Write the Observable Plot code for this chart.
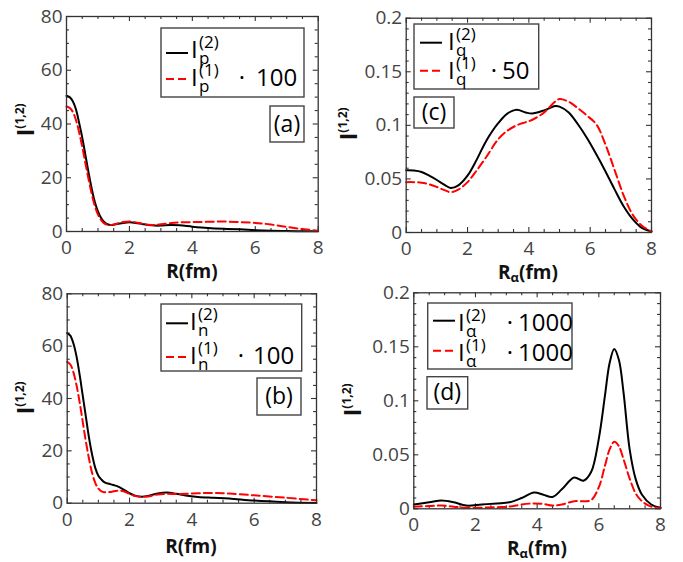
<!DOCTYPE html>
<html><head><meta charset="utf-8">
<script src="https://cdn.jsdelivr.net/npm/d3@7"></script>
<script src="https://cdn.jsdelivr.net/npm/@observablehq/plot@0.6"></script>
<style>
body{margin:0;background:#fff;}
#root{position:relative;width:683px;height:562px;background:#fff;font-family:"Open Sans",sans-serif;}
#root > svg{position:absolute;}
</style></head><body><div id="root"></div>
<script>
// ---------- data ----------
const xTicks = [0, 2, 4, 6, 8];
const xMinorTicks = [0.5, 1, 1.5, 2.5, 3, 3.5, 4.5, 5, 5.5, 6.5, 7, 7.5];
const abYTicks = [0, 20, 40, 60, 80];
const abYMinor = [5, 10, 15, 25, 30, 35, 45, 50, 55, 65, 70, 75];
const cdYTicks = [0, 0.05, 0.1, 0.15, 0.2];
const cdYMinor = [0.01, 0.02, 0.03, 0.04, 0.06, 0.07, 0.08, 0.09, 0.11, 0.12, 0.13, 0.14, 0.16, 0.17, 0.18, 0.19];

// (a) proton
const aR     = [0,0.1,0.2,0.3,0.4,0.5,0.6,0.7,0.8,0.9,1.0,1.1,1.2,1.3,1.4,1.5,1.6,1.8,2.0,2.2,2.4,2.6,2.8,3.0,3.3,3.6,4.0,4.5,5.0,5.5,6.0,6.5,7.0,7.5,8.0];
const aI2    = [50.5,50,48.5,45.5,40.5,35,28.5,22,16,11,7.5,5,3.5,2.7,2.4,2.5,2.8,3.2,3.4,3.2,2.8,2.4,2.2,2.2,2.4,2.3,1.8,1.3,1.0,0.8,0.5,0.3,0.2,0.1,0.05];
const aI1x100= [46.5,46,44.5,41.5,37,31.5,25.5,19.5,14,9.5,6.3,4.2,3,2.5,2.4,2.6,2.9,3.5,3.7,3.4,2.9,2.5,2.4,2.7,3.1,3.4,3.5,3.6,3.7,3.5,3.2,2.6,1.7,0.9,0.3];

// (b) neutron
const bR     = [0,0.1,0.2,0.3,0.4,0.5,0.6,0.7,0.8,0.9,1.0,1.1,1.2,1.4,1.6,1.8,2.0,2.2,2.4,2.6,2.9,3.2,3.5,3.8,4.2,4.7,5.2,6.0,7.0,8.0];
const bI2    = [65,64,61,56,49,41,33,25,18.5,13.5,10.5,9,8,7.2,6.5,5.3,3.8,2.8,2.5,2.8,3.7,4.1,3.6,2.9,2.4,2.1,1.8,1.0,0.4,0.1];
const bI1x100= [54,53,50,45,38.5,31,23.5,17,11.5,7.8,5.6,4.5,4.2,4.3,4.8,4.6,3.6,2.7,2.4,2.6,3.3,3.6,3.5,3.6,3.8,3.9,3.7,3.0,2.1,1.1];

// (c) Iq
const cR     = [0,0.25,0.5,0.75,1.0,1.25,1.45,1.7,2.0,2.3,2.6,3.0,3.3,3.6,3.9,4.1,4.5,4.85,5.0,5.3,5.6,5.9,6.2,6.5,6.8,7.1,7.4,7.7,8.0];
const cI2    = [0.058,0.0578,0.0565,0.053,0.049,0.0445,0.0415,0.044,0.053,0.068,0.085,0.102,0.111,0.1145,0.112,0.111,0.114,0.118,0.1175,0.112,0.101,0.088,0.073,0.057,0.040,0.024,0.012,0.004,0.001];
const cI1x50 = [0.047,0.047,0.0465,0.045,0.0425,0.0395,0.0376,0.040,0.047,0.058,0.070,0.087,0.095,0.100,0.103,0.105,0.112,0.122,0.1245,0.122,0.116,0.109,0.101,0.082,0.058,0.034,0.016,0.006,0.001];

// (d) alpha
const dR      = [0,0.5,0.9,1.3,1.7,2.2,2.7,3.1,3.5,3.9,4.2,4.5,4.8,5.2,5.5,5.75,6.0,6.2,6.35,6.5,6.65,6.8,7.0,7.2,7.4,7.7,8.0];
const dI2x1000= [0.004,0.006,0.0077,0.006,0.003,0.004,0.005,0.006,0.010,0.015,0.013,0.011,0.018,0.029,0.026,0.034,0.065,0.105,0.135,0.148,0.138,0.108,0.055,0.027,0.013,0.004,0.001];
const dI1x1000= [0.002,0.0025,0.003,0.002,0.001,0.001,0.0015,0.002,0.004,0.005,0.0045,0.003,0.004,0.007,0.007,0.008,0.020,0.040,0.055,0.062,0.058,0.046,0.028,0.014,0.007,0.002,0.0005];

// ---------- layout ----------
const root = document.getElementById("root");
const FRAME = "#333", TXT = "#444";

function panel(p) {
  const innerW = p.fx1 - p.fx0, innerH = p.fy1 - p.fy0;
  const black = p.R.map((r, i) => ({r, v: p.black[i]}));
  const red = p.R.map((r, i) => ({r, v: p.red[i]}));
  const tk = (data, dir, side, len) => dir === "x"
    ? Plot.tickX(data, {x: d => d, stroke: FRAME, strokeWidth: 1.1, [side]: (innerH - len)})
    : Plot.tickY(data, {y: d => d, stroke: FRAME, strokeWidth: 1.1, [side]: (innerW - len)});
  const svg = Plot.plot({
    width: p.W, height: p.H,
    marginLeft: p.fx0 - p.sx, marginRight: p.sx + p.W - p.fx1,
    marginTop: p.fy0 - p.sy, marginBottom: p.sy + p.H - p.fy1,
    x: {domain: [0, 8]},
    y: {domain: p.ydomain},
    style: {fontFamily: "Open Sans", background: "transparent", overflow: "visible"},
    marks: [
      tk(xTicks, "x", "insetTop", 5), tk(xTicks, "x", "insetBottom", 5),
      tk(xMinorTicks, "x", "insetTop", 3), tk(xMinorTicks, "x", "insetBottom", 3),
      tk(p.yTicks, "y", "insetRight", 5), tk(p.yTicks, "y", "insetLeft", 5),
      tk(p.yMinor, "y", "insetRight", 3), tk(p.yMinor, "y", "insetLeft", 3),
      Plot.line(black, {x: "r", y: "v", stroke: "black", strokeWidth: 2, curve: "catmull-rom"}),
      Plot.line(red, {x: "r", y: "v", stroke: "#ff0000", strokeWidth: 2, strokeDasharray: "8,4", curve: "catmull-rom"}),
      Plot.frame({stroke: FRAME, strokeWidth: 1.3}),
      Plot.axisX(xTicks, {tickSize: 0, tickPadding: 9, fontSize: 19, color: TXT, label: null}),
      Plot.axisY(p.yTicks, {tickSize: 0, tickPadding: 4, fontSize: 19, color: TXT, label: null, tickFormat: d => String(d)})
    ]
  });
  svg.style.left = p.sx + "px";
  svg.style.top = p.sy + "px";
  root.appendChild(svg);
}

panel({sx: 0, sy: 0, W: 341, H: 285, fx0: 66, fx1: 317.7, fy0: 16, fy1: 231,
  ydomain: [0, 80], yTicks: abYTicks, yMinor: abYMinor, R: aR, black: aI2, red: aI1x100});
panel({sx: 0, sy: 285, W: 341, H: 277, fx0: 66.7, fx1: 316, fy0: 293.3, fy1: 502.7,
  ydomain: [0, 80], yTicks: abYTicks, yMinor: abYMinor, R: bR, black: bI2, red: bI1x100});
panel({sx: 341, sy: 0, W: 342, H: 285, fx0: 405.7, fx1: 651, fy0: 17.7, fy1: 232,
  ydomain: [0, 0.2], yTicks: cdYTicks, yMinor: cdYMinor, R: cR, black: cI2, red: cI1x50});
panel({sx: 341, sy: 285, W: 342, H: 277, fx0: 413.3, fx1: 660, fy0: 292.3, fy1: 508.3,
  ydomain: [0, 0.2], yTicks: cdYTicks, yMinor: cdYMinor, R: dR, black: dI2x1000, red: dI1x1000});

// ---------- overlay: axis titles, legends, panel tags ----------
const ov = d3.select(root).append("svg")
  .attr("width", 683).attr("height", 562)
  .style("left", "0px").style("top", "0px")
  .attr("font-family", "Open Sans");

function yTitle(x, y) {
  const t = ov.append("text").attr("transform", `translate(${x},${y}) rotate(-90)`)
    .attr("text-anchor", "middle").attr("font-weight", "bold").attr("fill", "#111");
  t.append("tspan").attr("font-size", 24).text("I");
  t.append("tspan").attr("font-size", 12).attr("dy", -10).text("(1,2)");
}
function xTitle(x, y, alpha) {
  const t = ov.append("text").attr("x", x).attr("y", y).attr("text-anchor", "middle")
    .attr("font-weight", "bold").attr("font-size", 19).attr("fill", "#111");
  if (alpha) {
    t.append("tspan").text("R");
    t.append("tspan").attr("font-size", 13).attr("dy", 3).text("α");
    t.append("tspan").attr("dy", -3).text("(fm)");
  } else t.text("R(fm)");
}
yTitle(34, 120); yTitle(34, 398); yTitle(357, 124); yTitle(361, 400);
xTitle(192, 278, false); xTitle(191, 553, false); xTitle(528, 279, true); xTitle(537, 555, true);

function box(x0, y0, x1, y1) {
  ov.append("rect").attr("x", x0).attr("y", y0).attr("width", x1 - x0).attr("height", y1 - y0)
    .attr("fill", "white").attr("stroke", "#444").attr("stroke-width", 1.4);
}
function row(r) {
  ov.append("line").attr("x1", r.lx0).attr("x2", r.lx1).attr("y1", r.ly).attr("y2", r.ly)
    .attr("stroke", r.red ? "#ff0000" : "black").attr("stroke-width", 2)
    .attr("stroke-dasharray", r.red ? "8,4" : null);
  const t = ov.append("text").attr("y", r.base).attr("font-size", 24).attr("fill", "black");
  t.append("tspan").attr("x", r.ix).text("I");
  t.append("tspan").attr("x", r.ix + 8).attr("y", r.base + 6).attr("font-size", 17).text(r.sub);
  t.append("tspan").attr("x", r.ix + 8).attr("y", r.base - 10).attr("font-size", 17).text(r.sup);
  if (r.num) {
    ov.append("text").attr("x", r.dotX).attr("y", r.base).attr("text-anchor", "middle")
      .attr("font-size", 24).text("·");
    ov.append("text").attr("x", r.numX).attr("y", r.base).attr("font-size", 24).text(r.num);
  }
}
function tag(x0, y0, x1, y1, label) {
  box(x0, y0, x1, y1);
  ov.append("text").attr("x", (x0 + x1) / 2).attr("y", (y0 + y1) / 2 + 7.5).attr("text-anchor", "middle")
    .attr("font-size", 23).text(label);
}

// (a)
box(161, 28, 304, 97);
row({lx0: 166, lx1: 188, ly: 53, ix: 191, base: 58, sub: "p", sup: "(2)"});
row({lx0: 166, lx1: 188, ly: 79, ix: 191, base: 86, sub: "p", sup: "(1)", red: true, dotX: 242, numX: 256, num: "100"});
tag(270, 106, 304, 142, "(a)");
// (b)
box(161, 304, 301.7, 371);
row({lx0: 166, lx1: 188, ly: 323.3, ix: 190, base: 330, sub: "n", sup: "(2)"});
row({lx0: 166, lx1: 188, ly: 357, ix: 190, base: 364, sub: "n", sup: "(1)", red: true, dotX: 241, numX: 253, num: "100"});
tag(257, 378, 301, 415, "(b)");
// (c)
box(414, 24, 538.7, 89);
row({lx0: 420, lx1: 442, ly: 42.7, ix: 448, base: 50, sub: "q", sup: "(2)"});
row({lx0: 420, lx1: 442, ly: 70.7, ix: 448, base: 79, sub: "q", sup: "(1)", red: true, dotX: 494, numX: 502, num: "50"});
tag(414, 97, 454, 128, "(c)");
// (d)
box(427.7, 303, 572, 369);
row({lx0: 433, lx1: 455, ly: 320.7, ix: 458, base: 330.5, sub: "α", sup: "(2)", dotX: 510, numX: 518, num: "1000"});
row({lx0: 433, lx1: 455, ly: 350.7, ix: 458, base: 360.5, sub: "α", sup: "(1)", red: true, dotX: 510, numX: 518, num: "1000"});
tag(427, 376.7, 467.7, 409, "(d)");
</script></body></html>
